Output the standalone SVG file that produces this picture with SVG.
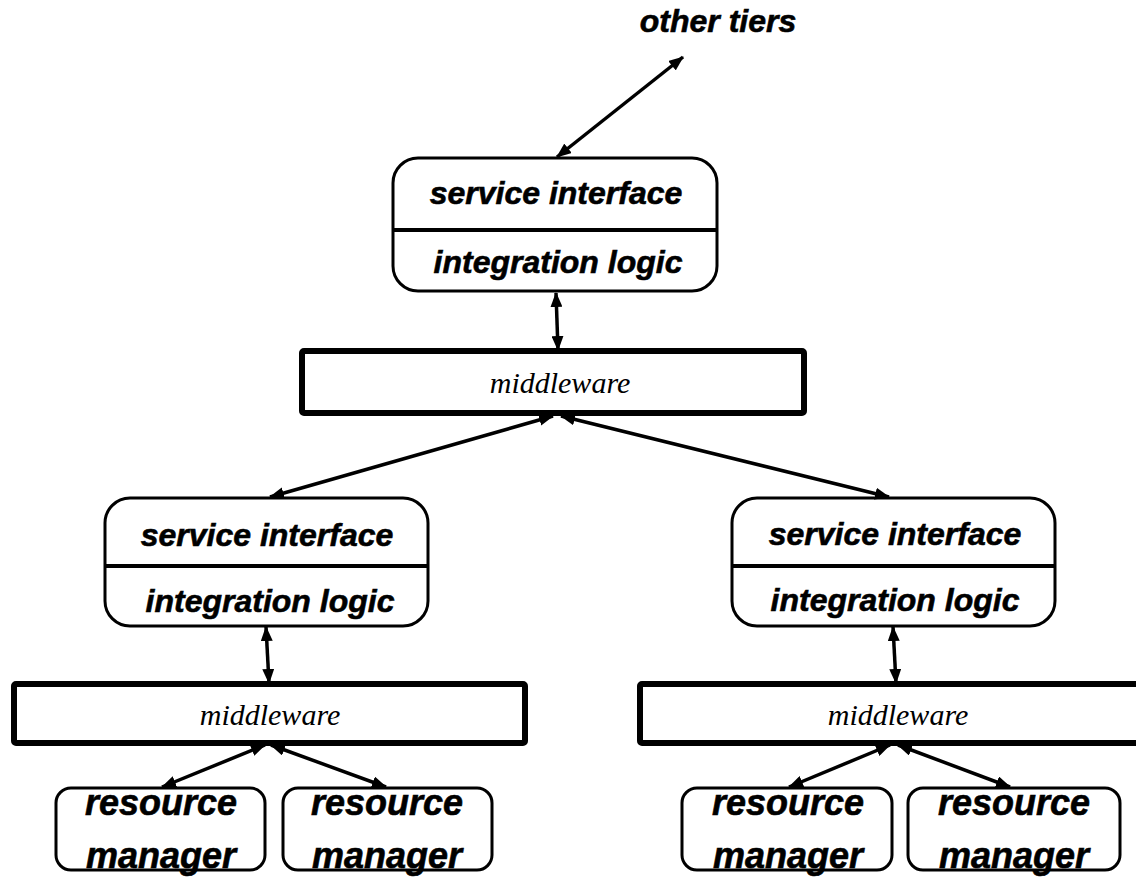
<svg xmlns="http://www.w3.org/2000/svg" width="1136" height="877" viewBox="0 0 1136 877">
  <style>
    .box { fill: #fff; stroke: #000; stroke-width: 3; }
    .divider { stroke: #000; stroke-width: 4; }
    .mw { fill: #fff; stroke: #000; stroke-width: 6; }
    .label { font-family: "Liberation Sans", Arial, sans-serif; font-weight: bold; font-style: italic; font-size: 32px; fill: #000; stroke: #000; stroke-width: 0.6; text-anchor: middle; }
    .rm { font-family: "Liberation Sans", Arial, sans-serif; font-weight: bold; font-style: italic; font-size: 36px; fill: #000; stroke: #000; stroke-width: 0.6; text-anchor: middle; }
    .mwtext { font-family: "Liberation Serif", "Times New Roman", serif; font-style: italic; font-size: 30px; fill: #000; text-anchor: middle; }
    .link { stroke: #000; stroke-width: 3.5; fill: none; marker-start: url(#head); marker-end: url(#head); }
  </style>
  <defs>
    <marker id="head" viewBox="0 0 15 12" refX="14" refY="6" markerWidth="15" markerHeight="12" markerUnits="userSpaceOnUse" orient="auto-start-reverse">
      <path d="M0,0 L15,6 L0,12 z" fill="#000"/>
    </marker>
  </defs>

  <!-- label for the outgoing link -->
  <g id="other-tiers">
    <text class="label" x="718" y="32">other tiers</text>
  </g>

  <!-- top integration tier -->
  <g id="tier-top">
    <rect class="box" x="393" y="158" width="324" height="133" rx="25"/>
    <line class="divider" x1="394" y1="230" x2="716" y2="230"/>
    <text class="label" x="556" y="204">service interface</text>
    <text class="label" x="558" y="273">integration logic</text>
  </g>

  <g id="middleware-top">
    <rect class="mw" x="302" y="351" width="502" height="62" rx="2"/>
    <text class="mwtext" x="560" y="393">middleware</text>
  </g>

  <!-- left branch -->
  <g id="tier-left">
    <rect class="box" x="105" y="498" width="323" height="128" rx="25"/>
    <line class="divider" x1="106" y1="566" x2="427" y2="566"/>
    <text class="label" x="267" y="546">service interface</text>
    <text class="label" x="270" y="612">integration logic</text>
  </g>

  <g id="middleware-left">
    <rect class="mw" x="14" y="684" width="511" height="59" rx="2"/>
    <text class="mwtext" x="270" y="725">middleware</text>
  </g>

  <g id="rm-left-1">
    <rect class="box" x="56" y="788" width="209" height="82" rx="15"/>
    <text class="rm" x="161" y="815">resource</text>
    <text class="rm" x="161" y="868">manager</text>
  </g>

  <g id="rm-left-2">
    <rect class="box" x="283" y="788" width="209" height="82" rx="15"/>
    <text class="rm" x="387" y="815">resource</text>
    <text class="rm" x="387" y="868">manager</text>
  </g>

  <!-- right branch -->
  <g id="tier-right">
    <rect class="box" x="732" y="498" width="323" height="128" rx="25"/>
    <line class="divider" x1="733" y1="566" x2="1054" y2="566"/>
    <text class="label" x="895" y="545">service interface</text>
    <text class="label" x="895" y="611">integration logic</text>
  </g>

  <g id="middleware-right">
    <rect class="mw" x="640" y="684" width="510" height="59" rx="2"/>
    <text class="mwtext" x="898" y="725">middleware</text>
  </g>

  <g id="rm-right-1">
    <rect class="box" x="682" y="788" width="210" height="82" rx="15"/>
    <text class="rm" x="788" y="815">resource</text>
    <text class="rm" x="788" y="868">manager</text>
  </g>

  <g id="rm-right-2">
    <rect class="box" x="908" y="788" width="212" height="82" rx="15"/>
    <text class="rm" x="1014" y="815">resource</text>
    <text class="rm" x="1014" y="868">manager</text>
  </g>

  <!-- bidirectional links -->
  <g id="connectors">
    <line class="link" x1="557" y1="157" x2="683" y2="57"/>
    <line class="link" x1="556" y1="293" x2="558" y2="350"/>
    <line class="link" x1="553" y1="416" x2="270" y2="497"/>
    <line class="link" x1="561" y1="416" x2="889" y2="497"/>
    <line class="link" x1="266" y1="627" x2="269" y2="683"/>
    <line class="link" x1="893" y1="627" x2="896" y2="683"/>
    <line class="link" x1="265" y1="745" x2="162" y2="787"/>
    <line class="link" x1="271" y1="745" x2="386" y2="787"/>
    <line class="link" x1="890" y1="745" x2="789" y2="787"/>
    <line class="link" x1="898" y1="745" x2="1010" y2="787"/>
  </g>
</svg>
